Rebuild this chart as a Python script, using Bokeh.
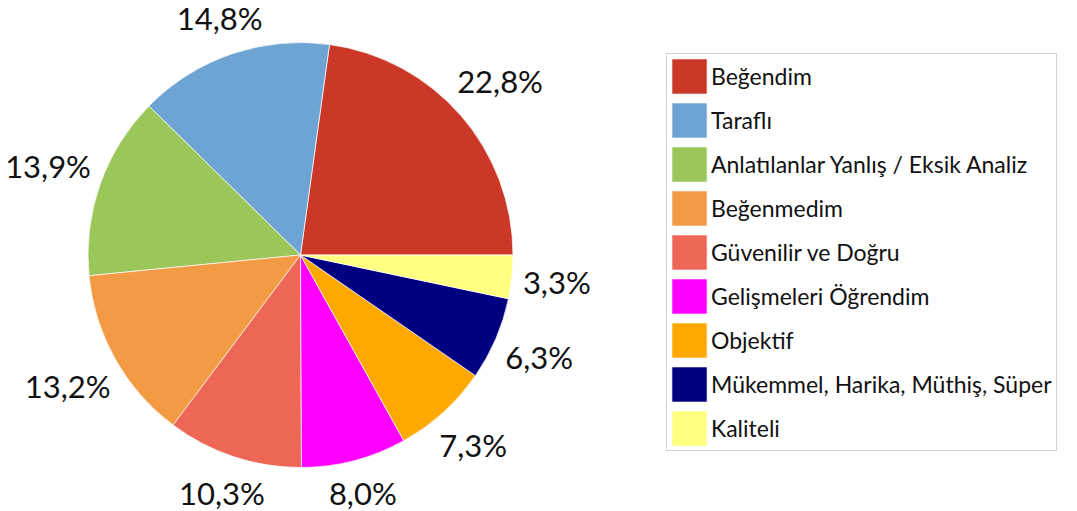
import math
from bokeh.plotting import figure
from bokeh.models import Range1d, Legend, LegendItem, ColumnDataSource
from bokeh.embed import file_html
from bokeh.resources import INLINE
from bokeh.core.properties import value

categories = [
    "Beğendim",
    "Taraflı",
    "Anlatılanlar Yanlış / Eksik Analiz",
    "Beğenmedim",
    "Güvenilir ve Doğru",
    "Gelişmeleri Öğrendim",
    "Objektif",
    "Mükemmel, Harika, Müthiş, Süper",
    "Kaliteli",
]
percentages = [22.8, 14.8, 13.9, 13.2, 10.3, 8.0, 7.3, 6.3, 3.3]
colors = ["#CC3828", "#6DA4D3", "#9BC75A", "#F39A45", "#EE6655",
          "#FF00FF", "#FFA800", "#000080", "#FFFF80"]

W, H = 1077, 511
p = figure(width=W, height=H, output_backend="svg", toolbar_location=None,
           x_range=Range1d(0, W), y_range=Range1d(511 - H, 511),
           min_border=0, outline_line_color=None)
p.axis.visible = False
p.grid.visible = False
p.background_fill_color = "white"
p.border_fill_color = "white"

cx, cy, R = 300, 511 - 254.5, 212.5
total = sum(percentages)
starts, ends, mids = [], [], []
acc = 0.0
for v in percentages:
    a0 = 2 * math.pi * acc / total
    acc += v
    a1 = 2 * math.pi * acc / total
    starts.append(a0); ends.append(a1); mids.append((a0 + a1) / 2)

label_texts = [("%.1f%%" % v).replace(".", ",") for v in percentages]

src = ColumnDataSource(dict(start=starts, end=ends, color=colors, cat=categories))
r = p.wedge(x=cx, y=cy, radius=R, start_angle="start", end_angle="end",
            fill_color="color", line_color="white", line_width=0.7, source=src)

FONT = "Lato"
fs = 31
lx, ly = [], []
for t, a in zip(label_texts, mids):
    hw = 0.28 * fs * len(t)
    hh = 16
    d = R + 9 + hw * abs(math.cos(a)) + hh * abs(math.sin(a))
    lx.append(cx + d * math.cos(a)); ly.append(cy + d * math.sin(a))
p.text(x=lx, y=ly, text=label_texts, text_align="center", text_baseline="middle",
       text_font=value(FONT), text_font_size="%dpx" % fs, text_color="#111111")

items = [LegendItem(label=c, renderers=[r], index=i) for i, c in enumerate(categories)]
legend = Legend(items=items, location=(666, 60), glyph_width=44, glyph_height=44,
                label_height=44, label_width=345, spacing=0, padding=0,
                label_standoff=0, margin=0,
                label_text_font=FONT, label_text_font_size="23px",
                label_text_color="#111111", border_line_color="#A6A6A6",
                border_line_width=1, background_fill_color="white", background_fill_alpha=1)
p.add_layout(legend, "center")

open("out.html", "w").write(file_html(p, INLINE))
